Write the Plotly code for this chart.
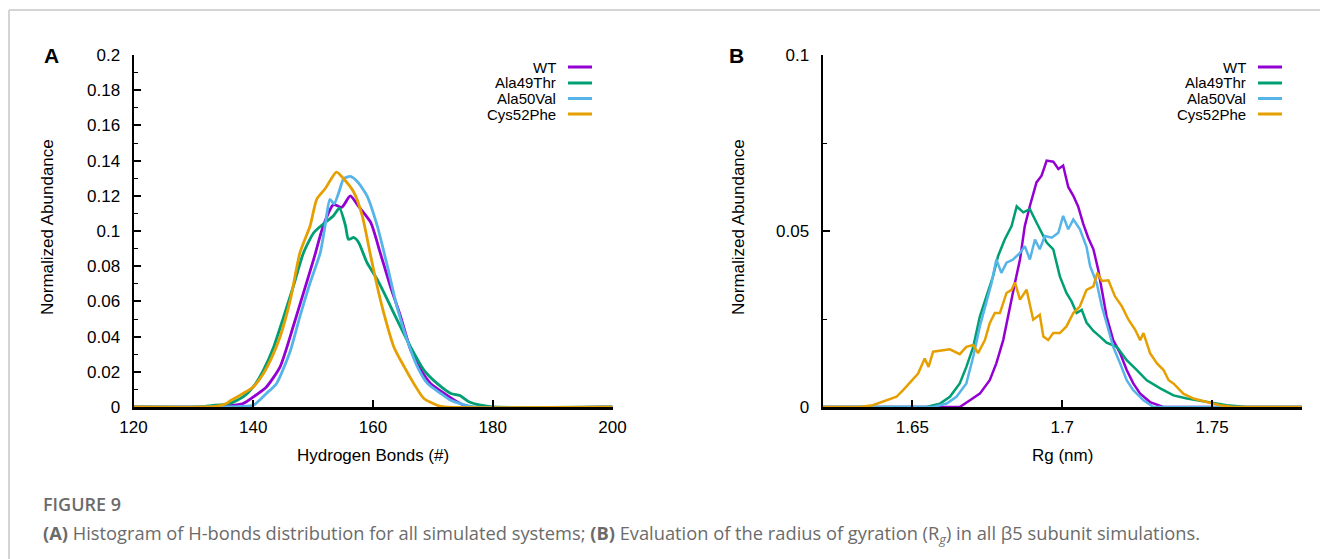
import plotly.graph_objects as go

W, H = 1320, 559
FONT = "Liberation Sans, Arial, sans-serif"
CAP_FONT = "Open Sans, Noto Sans, sans-serif"

SERIES = ["WT", "Ala49Thr", "Ala50Val", "Cys52Phe"]
COLORS = ["#9400d3", "#009e73", "#56b4e9", "#e69f00"]

# ---------- Panel A: Hydrogen bonds histogram ----------
hb_wt_x = [120, 132, 136, 138.3, 140, 142.2, 144.5, 146.7, 148.4, 150.1, 151.7, 153.4, 154.8, 156.2,
           157.6, 159.6, 161.2, 162.9, 164.6, 166.3, 168.0, 169.6, 171.9, 174, 176, 200]
hb_wt_y = [0, 0, 0.0008, 0.002, 0.0057, 0.0114, 0.023, 0.046, 0.065, 0.084, 0.103, 0.115, 0.1135, 0.120,
           0.114, 0.105, 0.0877, 0.0686, 0.0515, 0.0324, 0.021, 0.0134, 0.0077, 0.003, 0, 0]

hb_a49_x = [120, 131, 133, 136.1, 138.3, 140, 141.7, 143.4, 145.1, 146.7, 148.4, 150.1, 151.7, 153.4,
            154.4, 155.4, 155.9, 156.8, 157.6, 159.0, 160.7, 162.4, 164.0, 166.3, 168.5, 170.7, 173,
            174.5, 176, 178, 180, 200]
hb_a49_y = [0, 0, 0.0008, 0.002, 0.0057, 0.0114, 0.021, 0.034, 0.0515, 0.0686, 0.0877, 0.099, 0.104, 0.1087,
            0.113, 0.103, 0.0953, 0.0963, 0.0935, 0.082, 0.0725, 0.061, 0.0496, 0.034, 0.021, 0.0134, 0.0077,
            0.0065, 0.003, 0.001, 0, 0]

hb_a50_x = [120, 134, 138, 140, 142.2, 143.9, 146.2, 147.8, 149.5, 151.2, 152.0, 152.8, 153.5, 154.3,
            155.1, 156.2, 157.4, 159.0, 160.7, 162.4, 164.0, 165.7, 167.4, 169.1, 171.3, 173, 175, 177, 200]
hb_a50_y = [0, 0, 0.0003, 0.001, 0.0077, 0.0134, 0.032, 0.0515, 0.0706, 0.0877, 0.103, 0.118, 0.1154, 0.122,
            0.1297, 0.131, 0.128, 0.120, 0.103, 0.080, 0.057, 0.038, 0.023, 0.0134, 0.0077, 0.0038, 0.0015, 0, 0]

hb_c52_x = [120, 132, 134, 135.5, 136.1, 138.3, 140, 141.7, 143.4, 144.5, 146.2, 147.8, 149.5, 150.6,
            152.0, 153.9, 155.1, 156.8, 158.2, 159.6, 160.7, 161.8, 163.5, 165.2, 166.8, 168.5, 170.7, 172, 200]
hb_c52_y = [0, 0, 0.0005, 0.002, 0.0034, 0.0077, 0.0114, 0.019, 0.0305, 0.040, 0.061, 0.0877, 0.103, 0.118,
            0.124, 0.1335, 0.1297, 0.122, 0.1087, 0.086, 0.0686, 0.0534, 0.034, 0.0229, 0.0134, 0.0048, 0.001, 0, 0]

hb_ticks = [120, 140, 160, 180, 200]
hb_ticktext = ["120", "140", "160", "180", "200"]
hbA_yticks = [0, 0.02, 0.04, 0.06, 0.08, 0.1, 0.12, 0.14, 0.16, 0.18, 0.2]
hbA_yticktext = ["0", "0.02", "0.04", "0.06", "0.08", "0.1", "0.12", "0.14", "0.16", "0.18", "0.2"]

# ---------- Panel B: Radius of gyration histogram ----------
rg_wt_x = [1.62, 1.6658, 1.6692, 1.6725, 1.6758, 1.678, 1.6803, 1.6825, 1.6842, 1.6859, 1.6875, 1.6892,
           1.6914, 1.6931, 1.6948, 1.697, 1.6987, 1.7003, 1.702, 1.7037, 1.7053, 1.707, 1.7087, 1.7104,
           1.712, 1.7132, 1.7148, 1.717, 1.7193, 1.7215, 1.7237, 1.726, 1.7293, 1.7337, 1.78]
rg_wt_y = [0, 0, 0.0019, 0.0038, 0.0076, 0.0124, 0.019, 0.0276, 0.0352, 0.0419, 0.0514, 0.0571,
           0.0638, 0.0657, 0.070, 0.0697, 0.0676, 0.0686, 0.0625, 0.0600, 0.0570, 0.052, 0.048, 0.0448,
           0.039, 0.0333, 0.0257, 0.019, 0.0153, 0.0105, 0.0067, 0.0038, 0.0014, 0, 0]

rg_a49_x = [1.62, 1.6547, 1.6591, 1.6625, 1.6658, 1.668, 1.6703, 1.6725, 1.6747, 1.6769, 1.6786, 1.6808,
            1.6831, 1.6848, 1.687, 1.6892, 1.6914, 1.6931, 1.6948, 1.697, 1.6992, 1.7014, 1.7031, 1.7048,
            1.7065, 1.7081, 1.7104, 1.7126, 1.7148, 1.7182, 1.7215, 1.7249, 1.7282, 1.7327, 1.7371, 1.7416,
            1.7482, 1.7549, 1.7616, 1.78]
rg_a49_y = [0, 0, 0.0009, 0.0029, 0.0067, 0.0114, 0.0171, 0.0257, 0.0314, 0.0371, 0.0429, 0.0476,
            0.0514, 0.057, 0.0553, 0.0562, 0.0524, 0.0495, 0.0467, 0.0448, 0.0371, 0.0324, 0.0300, 0.0267,
            0.0276, 0.0240, 0.0216, 0.020, 0.0183, 0.0171, 0.0133, 0.0105, 0.0076, 0.0053, 0.0033, 0.0024,
            0.0014, 0.0005, 0, 0]

rg_a50_x = [1.62, 1.6569, 1.6614, 1.6647, 1.668, 1.6703, 1.6725, 1.6747, 1.6764, 1.678, 1.6797, 1.6814,
            1.6836, 1.6859, 1.6875, 1.6892, 1.6909, 1.6925, 1.6942, 1.6965, 1.6987, 1.7003, 1.702, 1.7037,
            1.7059, 1.7081, 1.7093, 1.7115, 1.7132, 1.7148, 1.717, 1.7193, 1.7215, 1.7237, 1.7271, 1.7304, 1.78]
rg_a50_y = [0, 0, 0.001, 0.0029, 0.0067, 0.0143, 0.0229, 0.0295, 0.0352, 0.0419, 0.0381, 0.041,
            0.0419, 0.0438, 0.0457, 0.0419, 0.0476, 0.0448, 0.0486, 0.0481, 0.0495, 0.0543, 0.0505, 0.0533,
            0.0505, 0.0455, 0.040, 0.0352, 0.0286, 0.0238, 0.0171, 0.0124, 0.0076, 0.0048, 0.0019, 0, 0]

rg_c52_x = [1.62, 1.6324, 1.6368, 1.6413, 1.6447, 1.6469, 1.6497, 1.6519, 1.6541, 1.6554, 1.6569, 1.6602,
            1.6625, 1.6658, 1.668, 1.6703, 1.6719, 1.6742, 1.6758, 1.6775, 1.6792, 1.6814, 1.6831, 1.6842,
            1.6859, 1.6881, 1.6903, 1.6925, 1.6937, 1.6953, 1.697, 1.6992, 1.7014, 1.7037, 1.7059, 1.7081,
            1.7104, 1.7117, 1.7132, 1.7154, 1.7176, 1.7199, 1.7221, 1.7243, 1.726, 1.7271, 1.7293, 1.7316,
            1.7338, 1.7355, 1.7371, 1.7404, 1.7438, 1.7482, 1.7527, 1.757, 1.78]
rg_c52_y = [0, 0, 0.0005, 0.0019, 0.0029, 0.0048, 0.0076, 0.0095, 0.0138, 0.0114, 0.0157, 0.0162,
            0.0164, 0.015, 0.0171, 0.0176, 0.0153, 0.019, 0.0238, 0.0267, 0.0267, 0.0324, 0.0333, 0.0354,
            0.0305, 0.0333, 0.0248, 0.0262, 0.020, 0.019, 0.021, 0.021, 0.0229, 0.0267, 0.0286, 0.0333,
            0.0343, 0.0381, 0.0358, 0.036, 0.0314, 0.0286, 0.0248, 0.022, 0.019, 0.021, 0.0153, 0.0124,
            0.0105, 0.0076, 0.0067, 0.0038, 0.0024, 0.0014, 0.0005, 0, 0]

rg_ticks = [1.65, 1.7, 1.75]
rg_ticktext = ["1.65", "1.7", "1.75"]
rg_yticks = [0, 0.05, 0.1]
rg_yticktext = ["0", "0.05", "0.1"]

hb_data = [(hb_wt_x, hb_wt_y), (hb_a49_x, hb_a49_y), (hb_a50_x, hb_a50_y), (hb_c52_x, hb_c52_y)]
rg_data = [(rg_wt_x, rg_wt_y), (rg_a49_x, rg_a49_y), (rg_a50_x, rg_a50_y), (rg_c52_x, rg_c52_y)]


def px(x):
    return x / W


def py(y):
    return 1 - y / H


fig = go.Figure()
for name, color, (x, y) in zip(SERIES, COLORS, hb_data):
    fig.add_trace(go.Scatter(x=x, y=y, name=name, mode="lines", xaxis="x", yaxis="y",
                             line=dict(color=color, width=2.8, shape="spline", smoothing=0.6),
                             showlegend=False))
for name, color, (x, y) in zip(SERIES, COLORS, rg_data):
    fig.add_trace(go.Scatter(x=x, y=y, name=name, mode="lines", xaxis="x2", yaxis="y2",
                             line=dict(color=color, width=2.5), showlegend=False))

tickfont = dict(family=FONT, size=17, color="black")
common_x = dict(showline=True, linecolor="black", linewidth=3, ticks="inside", ticklen=7, tickwidth=1.5,
                tickcolor="black", tickfont=tickfont, showgrid=False, zeroline=False, mirror=False,
                tickmode="array", ticklabelstandoff=3, automargin=False)
common_y = dict(showline=True, linecolor="black", linewidth=2, ticks="inside", ticklen=7, tickwidth=1.5,
                tickcolor="black", tickfont=tickfont, showgrid=False, zeroline=False, mirror=False,
                tickmode="array", ticklabelstandoff=8, automargin=False)

y0, y1 = 407, 55
fig.update_layout(
    width=W, height=H,
    margin=dict(l=0, r=0, t=0, b=0, pad=0, autoexpand=False),
    paper_bgcolor="white", plot_bgcolor="white",
    showlegend=False,
    xaxis=dict(domain=[px(133.5), px(612.5)], range=[120, 200], anchor="y",
               tickvals=hb_ticks, ticktext=hb_ticktext, **common_x),
    yaxis=dict(domain=[py(y0), py(y1)], range=[0, 0.2], anchor="x",
               tickvals=hbA_yticks, ticktext=hbA_yticktext,
               minor=dict(ticks="inside", ticklen=4, tickwidth=1, tickcolor="black",
                          tickmode="array", tickvals=[v + 0.01 for v in hbA_yticks[:-1]]),
               **common_y),
    xaxis2=dict(domain=[px(822.5), px(1302)], range=[1.62, 1.78], anchor="y2",
                tickvals=rg_ticks, ticktext=rg_ticktext, **common_x),
    yaxis2=dict(domain=[py(y0), py(y1)], range=[0, 0.1], anchor="x2",
                tickvals=rg_yticks, ticktext=rg_yticktext,
                minor=dict(ticks="inside", ticklen=4, tickwidth=1, tickcolor="black",
                           tickmode="array", tickvals=[0.025, 0.075]),
                **common_y),
)

annotations = []
shapes = []

# panel letters
for letter, xc in (("A", 51), ("B", 736)):
    annotations.append(dict(text=f"<b>{letter}</b>", x=px(xc), y=py(56), xref="paper", yref="paper",
                            showarrow=False, xanchor="center", yanchor="middle",
                            font=dict(family=FONT, size=21, color="black")))

# axis titles
for xc in (47, 738):
    annotations.append(dict(text="Normalized Abundance", x=px(xc), y=py(227), xref="paper", yref="paper",
                            showarrow=False, textangle=-90, xanchor="center", yanchor="middle",
                            font=dict(family=FONT, size=17, color="black")))
for txt, xc in (("Hydrogen Bonds (#)", 373), ("Rg (nm)", 1062)):
    annotations.append(dict(text=txt, x=px(xc), y=py(455), xref="paper", yref="paper",
                            showarrow=False, xanchor="center", yanchor="middle",
                            font=dict(family=FONT, size=17, color="black")))

# gnuplot-style legends: label right-aligned, sample line on the right
leg_rows = [67, 83, 98.5, 114]
for text_right, line_x0, line_x1 in ((558, 568, 592), (1248, 1258, 1282)):
    for name, color, ry in zip(SERIES, COLORS, leg_rows):
        annotations.append(dict(text=name, x=px(text_right), y=py(ry), xref="paper", yref="paper",
                                showarrow=False, xanchor="right", yanchor="middle",
                                font=dict(family=FONT, size=15, color="black")))
        shapes.append(dict(type="line", xref="paper", yref="paper", x0=px(line_x0), x1=px(line_x1),
                           y0=py(ry), y1=py(ry), line=dict(color=color, width=3)))

# caption
annotations.append(dict(text="FIGURE 9", x=px(41), y=py(504), xref="paper", yref="paper",
                        showarrow=False, xanchor="left", yanchor="middle",
                        font=dict(family=CAP_FONT, size=18, color="#6b6b6b", weight=600)))
annotations.append(dict(
    text="<b>(A)</b> Histogram of H-bonds distribution for all simulated systems; <b>(B)</b> Evaluation of the "
         "radius of gyration (R<sub><i>g</i></sub>) in all β5 subunit simulations.",
    x=px(41), y=py(534), xref="paper", yref="paper", showarrow=False, xanchor="left", yanchor="middle",
    font=dict(family=CAP_FONT, size=18.3, color="#6b6b6b")))

# page frame lines
shapes.append(dict(type="line", xref="paper", yref="paper", x0=px(9), x1=1, y0=py(10), y1=py(10),
                   line=dict(color="#d4d4d4", width=2)))
shapes.append(dict(type="line", xref="paper", yref="paper", x0=px(9), x1=px(9), y0=py(10), y1=0,
                   line=dict(color="#d4d4d4", width=2)))

fig.update_layout(annotations=annotations, shapes=shapes)
fig.write_html("out.html", post_script="document.body.style.margin='0';")
